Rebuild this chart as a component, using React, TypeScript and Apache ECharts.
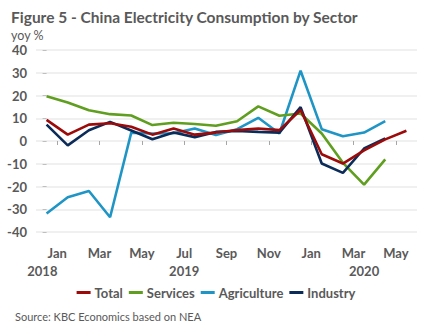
import React, { useEffect, useRef } from "react";
import * as echarts from "echarts";

const months = ["Dec", "Jan", "Feb", "Mar", "Apr", "May", "Jun", "Jul", "Aug", "Sep", "Oct", "Nov", "Dec", "Jan", "Feb", "Mar", "Apr", "May"];
const monthTicks = [0.5, 2.5, 4.5, 6.5, 8.5, 10.5, 12.5, 14.5, 16.5];
const monthTickLabels = ["Jan", "Mar", "May", "Jul", "Sep", "Nov", "Jan", "Mar", "May"];
const yearTicks = [-0.2, 6.5, 15];
const yearLabels = ["2018", "2019", "2020"];

const total = [9.3, 2.8, 7.2, 7.8, 6.3, 2.8, 5.5, 2.8, 3.7, 4.8, 5.5, 4.8, 13.6, -5.8, -9.9, -4.1, 0.7, 4.5];
const services = [19.7, 16.9, 13.5, 11.8, 11.2, 7.0, 8.0, 7.5, 6.7, 8.7, 15.2, 11.1, 12.1, 3.3, -9.6, -19.2, -8.1, null];
const agriculture = [-31.9, -24.7, -22.0, -33.5, 3.7, 3.3, 3.4, 5.5, 2.6, 5.2, 10.2, 3.3, 30.9, 5.2, 2.1, 3.7, 8.7, null];
const industry = [7.2, -1.9, 4.7, 8.4, 4.6, 0.8, 3.7, 1.7, 4.0, 4.4, 4.0, 3.7, 14.9, -9.9, -14.0, -3.3, 1.1, null];

const GREY = "#595959";
const FONT = "Lato, 'Open Sans', sans-serif";

function pairs(arr: (number | null)[]) {
  return arr.map((v, i) => [i, v]).filter((p) => p[1] !== null);
}

export default function App() {
  const ref = useRef<HTMLDivElement>(null);
  useEffect(() => {
    if (!ref.current) return;
    const chart = echarts.init(ref.current, undefined, { renderer: "svg" });
    const mkSeries = (name: string, data: (number | null)[], color: string, z: number) => ({
      name,
      type: "line",
      data: pairs(data),
      xAxisIndex: 0,
      showSymbol: false,
      symbol: "none",
      lineStyle: { color, width: 2.6 },
      itemStyle: { color },
      z,
    });
    chart.setOption({
      animation: false,
      textStyle: { fontFamily: FONT },
      title: [
        {
          text: "Figure 5 - China Electricity Consumption by Sector",
          left: 6,
          top: 4,
          textStyle: { fontFamily: FONT, fontSize: 15.5, fontWeight: "bold", color: GREY },
        },
        {
          text: "yoy %",
          left: 6,
          top: 24,
          textStyle: { fontFamily: FONT, fontSize: 12.5, fontWeight: "normal", color: GREY },
        },
        {
          text: "Source: KBC Economics based on NEA",
          left: 10,
          top: 306,
          textStyle: { fontFamily: FONT, fontSize: 11, fontWeight: "normal", color: GREY },
        },
      ],
      grid: { left: 36, right: 15, top: 50, bottom: 102 },
      legend: {
        top: 281,
        left: "center",
        icon: "rect",
        itemWidth: 14,
        itemHeight: 3,
        itemGap: 6,
        textStyle: { fontFamily: FONT, fontSize: 13, fontWeight: "bold", color: GREY, padding: [0, 0, 0, -1] },
        data: ["Total", "Services", "Agriculture", "Industry"],
      },
      xAxis: [
        {
          type: "value",
          min: -0.5,
          max: 17.5,
          position: "bottom",
          offset: 8,
          axisLine: { show: false },
          splitLine: { show: false },
          axisTick: { show: true, customValues: monthTicks, length: 4, lineStyle: { color: "#a6a6a6" } },
          axisLabel: {
            customValues: monthTicks,
            formatter: (v: number) => {
              const i = monthTicks.findIndex((t) => Math.abs(t - v) < 1e-6);
              return i >= 0 ? monthTickLabels[i] : "";
            },
            margin: 6,
            fontFamily: FONT,
            fontSize: 13,
            fontWeight: "bold",
            color: GREY,
          },
        },
        {
          type: "value",
          min: -0.5,
          max: 17.5,
          position: "bottom",
          offset: 8,
          axisLine: { show: false },
          splitLine: { show: false },
          axisTick: { show: false },
          axisLabel: {
            customValues: yearTicks,
            formatter: (v: number) => {
              const i = yearTicks.findIndex((t) => Math.abs(t - v) < 1e-6);
              return i >= 0 ? yearLabels[i] : "";
            },
            margin: 24,
            fontFamily: FONT,
            fontSize: 13,
            fontWeight: "bold",
            color: GREY,
          },
        },
      ],
      yAxis: {
        type: "value",
        min: -40,
        max: 40,
        interval: 10,
        axisLine: { show: false },
        axisTick: { show: true, length: 4, lineStyle: { color: "#bfbfbf" } },
        splitLine: { show: true, lineStyle: { color: "#ebebeb", width: 1.5 } },
        axisLabel: { margin: 9, fontFamily: FONT, fontSize: 13, fontWeight: "bold", color: GREY },
      },
      series: [
        mkSeries("Total", total, "#9c0a0a", 5),
        mkSeries("Services", services, "#5f9e1f", 3),
        mkSeries("Agriculture", agriculture, "#1f95c6", 2),
        mkSeries("Industry", industry, "#0b2b58", 4),
      ],
    });
    return () => chart.dispose();
  }, []);
  return <div ref={ref} style={{ width: 432, height: 334, position: "absolute", left: 0, top: 0 }} />;
}
